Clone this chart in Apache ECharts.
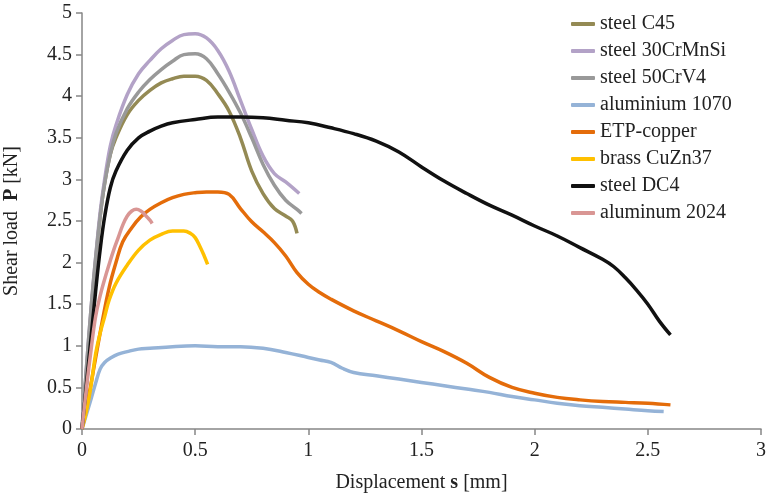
<!DOCTYPE html>
<html><head><meta charset="utf-8">
<script src="https://cdn.jsdelivr.net/npm/echarts@6/dist/echarts.min.js"></script>
<style>html,body{margin:0;padding:0;background:#fff}#c{width:769px;height:498px}</style>
</head><body><div id="c"></div>
<script>
const seriesNames = ['steel C45','steel 30CrMnSi','steel 50CrV4','aluminium 1070','ETP-copper','brass CuZn37','steel DC4','aluminum 2024'];
const xTicks = [0,0.5,1,1.5,2,2.5,3];
const yTicks = [0,0.5,1,1.5,2,2.5,3,3.5,4,4.5,5];

const steelC45 = [[0,0],[0.02,0.7],[0.04,1.4],[0.06,2.0],[0.08,2.55],[0.1,2.95],[0.125,3.3],[0.15,3.5],[0.2,3.78],[0.25,3.95],[0.3,4.07],[0.35,4.16],[0.4,4.21],[0.45,4.24],[0.5,4.24],[0.55,4.19],[0.6,4.03],[0.65,3.82],[0.7,3.5],[0.75,3.1],[0.8,2.83],[0.85,2.65],[0.9,2.56],[0.93,2.5],[0.95,2.35]];
const steel30CrMnSi = [[0,0],[0.02,0.75],[0.04,1.45],[0.06,2.05],[0.08,2.6],[0.1,3.0],[0.125,3.4],[0.15,3.65],[0.2,4.02],[0.25,4.27],[0.3,4.43],[0.35,4.57],[0.4,4.67],[0.45,4.74],[0.5,4.75],[0.55,4.7],[0.6,4.55],[0.65,4.3],[0.7,3.95],[0.75,3.6],[0.8,3.28],[0.85,3.07],[0.9,2.97],[0.96,2.83]];
const steel50CrV4 = [[0,0],[0.02,0.75],[0.04,1.45],[0.06,2.05],[0.08,2.55],[0.1,2.95],[0.125,3.3],[0.15,3.55],[0.2,3.85],[0.25,4.05],[0.3,4.2],[0.35,4.32],[0.4,4.42],[0.45,4.5],[0.5,4.51],[0.55,4.45],[0.6,4.27],[0.65,4.05],[0.7,3.8],[0.75,3.5],[0.8,3.18],[0.85,2.93],[0.9,2.75],[0.95,2.64],[0.97,2.59]];
const aluminium1070 = [[0,0],[0.02,0.18],[0.04,0.36],[0.06,0.55],[0.08,0.72],[0.1,0.8],[0.13,0.86],[0.16,0.9],[0.2,0.93],[0.25,0.96],[0.3,0.97],[0.4,0.99],[0.5,1.0],[0.6,0.99],[0.7,0.99],[0.8,0.97],[0.9,0.92],[1.0,0.86],[1.05,0.83],[1.1,0.8],[1.15,0.73],[1.2,0.68],[1.3,0.64],[1.4,0.6],[1.5,0.56],[1.6,0.52],[1.7,0.48],[1.8,0.44],[1.9,0.39],[2.0,0.35],[2.1,0.31],[2.2,0.28],[2.3,0.26],[2.4,0.24],[2.5,0.22],[2.57,0.21]];
const etpCopper = [[0,0],[0.03,0.4],[0.06,0.85],[0.09,1.3],[0.12,1.7],[0.15,2.0],[0.18,2.25],[0.22,2.42],[0.26,2.55],[0.3,2.64],[0.35,2.72],[0.4,2.78],[0.45,2.82],[0.5,2.84],[0.55,2.85],[0.6,2.85],[0.65,2.82],[0.7,2.65],[0.75,2.49],[0.8,2.37],[0.85,2.24],[0.9,2.08],[0.95,1.88],[1.0,1.74],[1.05,1.64],[1.1,1.56],[1.2,1.42],[1.3,1.3],[1.4,1.18],[1.5,1.05],[1.6,0.93],[1.7,0.79],[1.8,0.62],[1.9,0.5],[2.0,0.43],[2.1,0.38],[2.2,0.35],[2.3,0.33],[2.4,0.32],[2.5,0.31],[2.6,0.29]];
const brassCuZn37 = [[0,0],[0.02,0.22],[0.04,0.52],[0.06,0.9],[0.08,1.15],[0.1,1.35],[0.12,1.55],[0.15,1.75],[0.2,1.97],[0.25,2.15],[0.3,2.27],[0.35,2.34],[0.4,2.38],[0.45,2.38],[0.48,2.35],[0.5,2.3],[0.52,2.2],[0.54,2.08],[0.555,1.98]];
const steelDC4 = [[0,0],[0.02,0.55],[0.04,1.1],[0.06,1.65],[0.08,2.15],[0.1,2.55],[0.125,2.9],[0.15,3.1],[0.2,3.35],[0.25,3.5],[0.3,3.58],[0.35,3.64],[0.4,3.68],[0.5,3.72],[0.6,3.75],[0.7,3.75],[0.8,3.74],[0.9,3.71],[1.0,3.68],[1.1,3.62],[1.2,3.55],[1.3,3.46],[1.4,3.33],[1.5,3.15],[1.6,2.98],[1.7,2.83],[1.8,2.69],[1.9,2.57],[2.0,2.44],[2.1,2.32],[2.2,2.18],[2.3,2.04],[2.35,1.95],[2.4,1.82],[2.45,1.67],[2.5,1.5],[2.55,1.3],[2.6,1.13]];
const aluminum2024 = [[0,0],[0.02,0.5],[0.04,0.95],[0.06,1.35],[0.08,1.6],[0.1,1.8],[0.12,1.98],[0.14,2.15],[0.16,2.3],[0.18,2.45],[0.2,2.56],[0.22,2.62],[0.24,2.64],[0.26,2.62],[0.28,2.57],[0.3,2.51],[0.31,2.47]];

const allData = [steelC45, steel30CrMnSi, steel50CrV4, aluminium1070, etpCopper, brassCuZn37, steelDC4, aluminum2024];
const colors = ['#948a54','#b3a2c7','#999999','#95b3d7','#e46c0a','#ffc000','#111111','#d99694'];

const font = 'Liberation Serif';
const chart = echarts.init(document.getElementById('c'));
function buildOption() {
  return {
    animation: false,
    grid: {left: 82, right: 8, top: 13, bottom: 69, containLabel: false, outerBoundsMode: 'none'},
    legend: {
      data: seriesNames,
      textStyle: {fontFamily: font, fontSize: 20, color: '#222'},
      orient: 'vertical', left: 566, top: 9, itemGap: 7,
      itemWidth: 24, itemHeight: 4, icon: 'roundRect'
    },
    xAxis: {
      type: 'value', min: xTicks[0], max: xTicks[xTicks.length-1], interval: 0.5,
      axisLabel: {fontFamily: font, fontSize: 20, color: '#222', margin: 12},
      axisLine: {show: true, lineStyle: {color: '#868686', width: 1.5}},
      axisTick: {show: true, length: 6, lineStyle: {color: '#868686', width: 1.5}},
      splitLine: {show: false},
      name: '{t|Displacement }{b|s}{t| [mm]}',
      nameLocation: 'middle', nameGap: 44,
      nameTextStyle: {fontFamily: font, fontSize: 20, color: '#222', rich: {
        t: {fontFamily: font, fontSize: 20, color: '#222'},
        b: {fontFamily: font, fontSize: 20, color: '#222', fontWeight: 'bold'}}}
    },
    yAxis: {
      type: 'value', min: yTicks[0], max: yTicks[yTicks.length-1], interval: 0.5,
      axisLabel: {fontFamily: font, fontSize: 20, color: '#222', margin: 10},
      axisLine: {show: true, lineStyle: {color: '#868686', width: 1.5}},
      axisTick: {show: true, length: 6, lineStyle: {color: '#868686', width: 1.5}},
      splitLine: {show: false},
      name: '{t|Shear load  }{b|P}{t| [kN]}',
      nameLocation: 'middle', nameGap: 60,
      nameTextStyle: {fontFamily: font, fontSize: 20, color: '#222', rich: {
        t: {fontFamily: font, fontSize: 20, color: '#222'},
        b: {fontFamily: font, fontSize: 20, color: '#222', fontWeight: 'bold'}}}
    },
    series: seriesNames.map((n, i) => ({
      name: n, type: 'line', data: allData[i], showSymbol: false,
      smooth: 0.4, color: colors[i],
      lineStyle: {color: colors[i], width: 3.5}
    }))
  };
}
chart.setOption(buildOption());
function rerender() { chart.clear(); chart.setOption(buildOption(), true); }
if (document.fonts && document.fonts.load) {
  Promise.all([document.fonts.load('20px "Liberation Serif"'), document.fonts.load('bold 20px "Liberation Serif"')]).then(rerender, rerender);
}
setTimeout(rerender, 50);
</script></body></html>
